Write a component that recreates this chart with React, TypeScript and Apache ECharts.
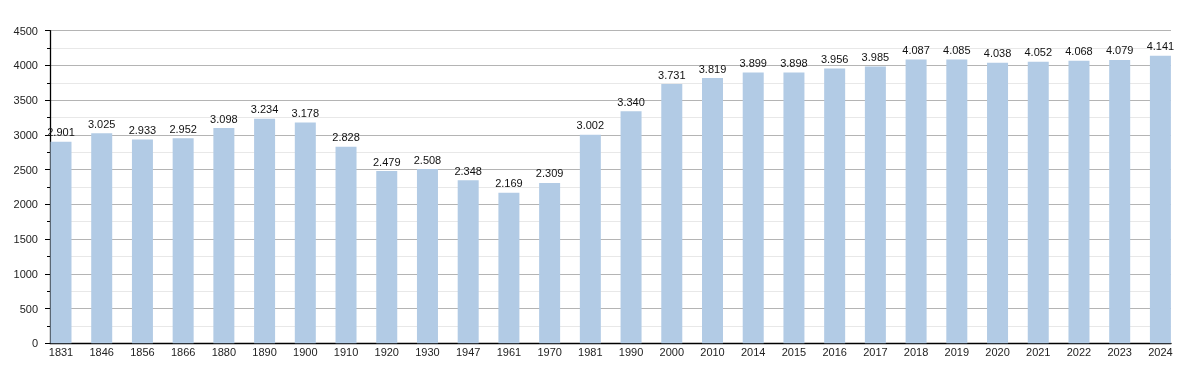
import React, { useEffect, useRef } from "react";
import * as echarts from "echarts";

const years = ["1831","1846","1856","1866","1880","1890","1900","1910","1920","1930","1947","1961","1970","1981","1990","2000","2010","2014","2015","2016","2017","2018","2019","2020","2021","2022","2023","2024"];
const population = [2901,3025,2933,2952,3098,3234,3178,2828,2479,2508,2348,2169,2309,3002,3340,3731,3819,3899,3898,3956,3985,4087,4085,4038,4052,4068,4079,4141];
const yTicks = [0, 500, 1000, 1500, 2000, 2500, 3000, 3500, 4000, 4500];

export default function App() {
  const ref = useRef<HTMLDivElement>(null);
  useEffect(() => {
    if (!ref.current) return;
    const chart = echarts.init(ref.current, null, { renderer: "svg" });
    const font = "'Liberation Sans', Arial, sans-serif";
    chart.setOption({
      animation: false,
      grid: { left: 50, right: 29, top: 30.7, bottom: 29.7, containLabel: false },
      xAxis: {
        type: "value",
        min: -0.27,
        max: 27.26,
        axisLine: { show: true, onZero: false, lineStyle: { color: "#000", width: 1.3 } },
        axisTick: { show: false },
        splitLine: { show: false },
        axisLabel: {
          customValues: years.map((_, i) => i),
          formatter: (v: number) => years[Math.round(v)] ?? "",
          color: "#222",
          fontSize: 11,
          fontFamily: font,
          margin: 3,
        },
      },
      yAxis: {
        type: "value",
        min: 0,
        max: yTicks[yTicks.length - 1],
        interval: 500,
        axisLine: { show: true, onZero: false, lineStyle: { color: "#000", width: 1.3 } },
        axisTick: { show: true, length: 5, lineStyle: { color: "#000" } },
        minorTick: { show: true, splitNumber: 2, length: 3, lineStyle: { color: "#000" } },
        splitLine: { show: true, lineStyle: { color: "#b4b4b4", width: 1 } },
        minorSplitLine: { show: true, lineStyle: { color: "#e8e8e8", width: 1 } },
        axisLabel: {
          color: "#222",
          fontSize: 11,
          fontFamily: font,
          margin: 12,
          formatter: (v: number) => String(v),
        },
      },
      series: [
        {
          type: "bar",
          data: population.map((v, i) => [i, v]),
          barWidth: 21,
          itemStyle: { color: "#b2cbe5" },
          label: {
            show: true,
            position: "top",
            distance: 4,
            color: "#111",
            fontSize: 11,
            fontFamily: font,
            formatter: (p: any) => {
              const v = p.value[1] as number;
              return Math.floor(v / 1000) + "." + String(v % 1000).padStart(3, "0");
            },
          },
        },
      ],
    });
    return () => chart.dispose();
  }, []);
  return <div ref={ref} style={{ position: "fixed", left: 0, top: 0, width: 1200, height: 373 }} />;
}
